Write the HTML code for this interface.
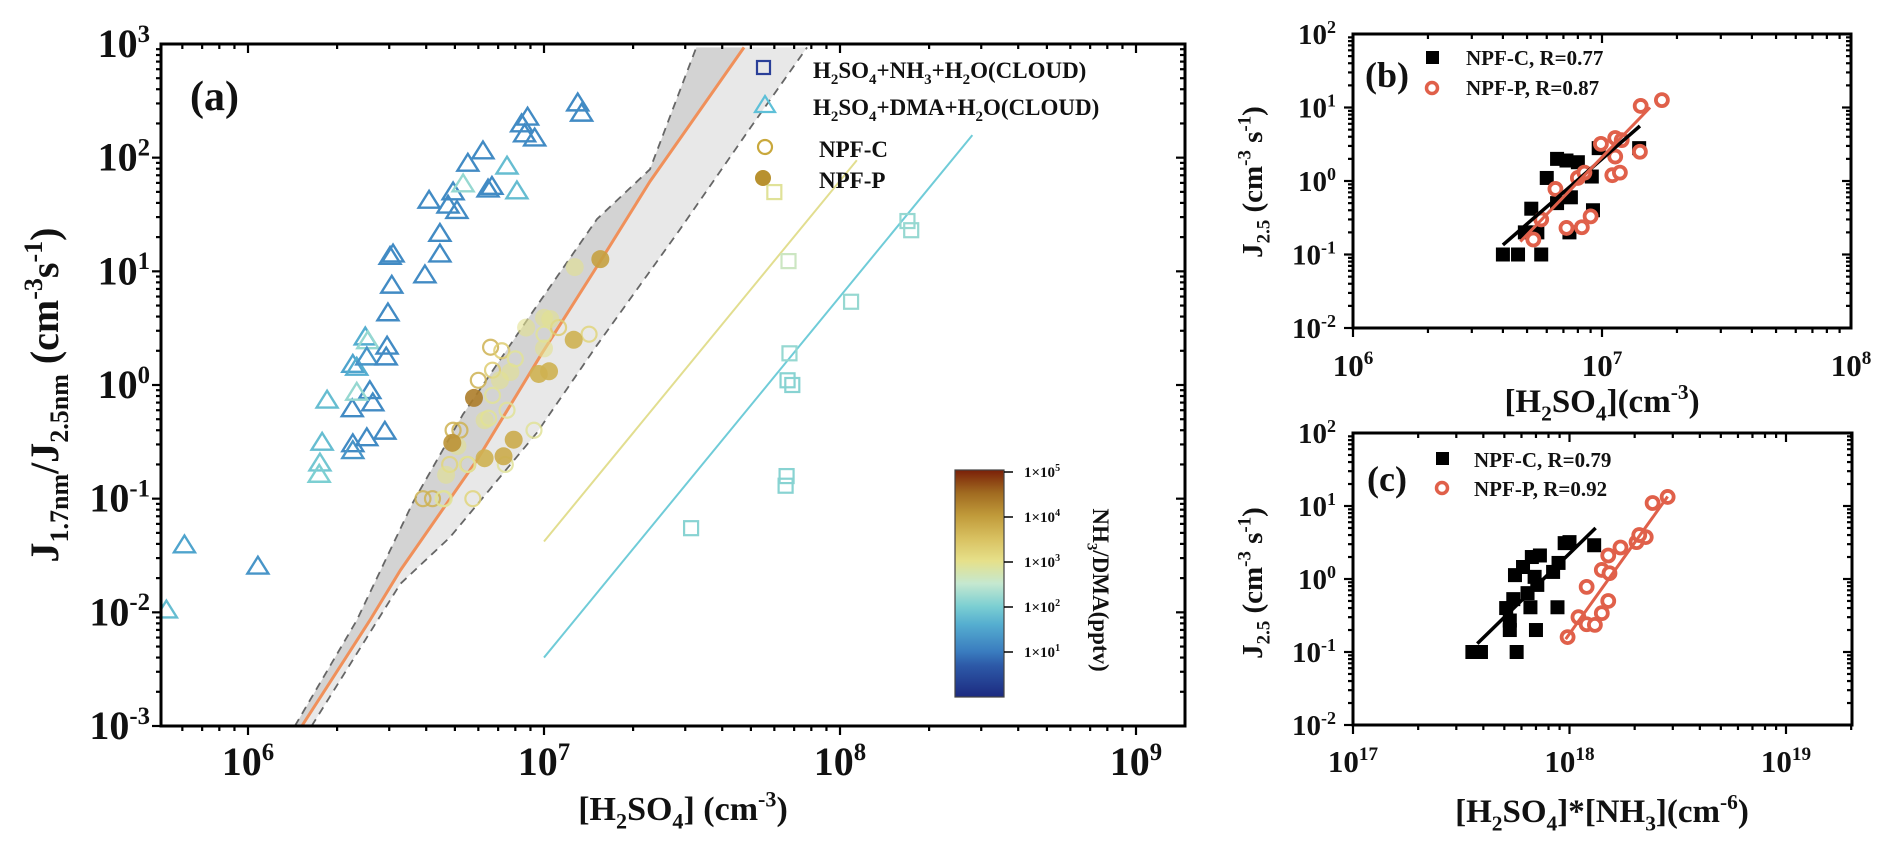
<!DOCTYPE html>
<html><head><meta charset="utf-8"><style>
html,body{margin:0;padding:0;background:#fff;}
svg{display:block;font-family:"Liberation Serif",serif;font-weight:bold;}
</style></head><body>
<svg id="fig" width="1892" height="860" viewBox="0 0 1892 860" xmlns="http://www.w3.org/2000/svg">
<defs>
<linearGradient id="cbgrad" x1="0" y1="1" x2="0" y2="0">
<stop offset="0" stop-color="#1c2a80"/><stop offset="0.14" stop-color="#2d5aa8"/><stop offset="0.2" stop-color="#3a7cbf"/>
<stop offset="0.32" stop-color="#55aed0"/><stop offset="0.4" stop-color="#7ccfd2"/><stop offset="0.5" stop-color="#c5e8d0"/>
<stop offset="0.6" stop-color="#e6e08a"/><stop offset="0.7" stop-color="#d8c060"/><stop offset="0.8" stop-color="#c09a3a"/>
<stop offset="0.9" stop-color="#a06a20"/><stop offset="1" stop-color="#7a2008"/>
</linearGradient>
</defs>
</svg>
<script>
// ===== Panel (a) data =====
const triX=[5.3e5,6.1e5,1.08e6,1.85e6,1.78e6,1.75e6,1.74e6,2.25e6,2.26e6,2.26e6,2.52e6,2.9e6,2.58e6,2.64e6,2.33e6,2.26e6,2.33e6,2.49e6,2.54e6,2.52e6,2.95e6,2.93e6,2.97e6,3.06e6,3.02e6,3.09e6,3.96e6,4.45e6,4.45e6,4.09e6,4.74e6,4.93e6,5.08e6,5.33e6,5.53e6,6.22e6,6.47e6,6.67e6,7.5e6,8.1e6,8.8e6,8.4e6,8.6e6,9.3e6,1.30e7,1.34e7];
const triY=[0.0107,0.040,0.026,0.75,0.32,0.21,0.167,0.63,0.31,0.27,0.35,0.40,0.91,0.71,0.88,1.55,1.46,2.7,2.5,1.8,2.24,1.8,4.4,7.7,13.8,14.5,9.5,14.5,22,43,39,51,35,60,91,117,54,57,86,52,232,202,165,152,309,251];
const triC=[60,30,20,60,60,80,100,15,15,20,15,15,15,15,150,30,40,40,150,20,15,15,15,15,15,15,15,15,15,15,15,15,15,150,15,15,15,15,60,60,15,15,15,15,15,15];
const ocX=[6.6e6,7.2e6,6.0e6,6.7e6,8.0e6,1.0e7,1.12e7,1.42e7,6.7e6,7.5e6,6.5e6,9.25e6,5.2e6,4.93e6,5.53e6,7.4e6,5.75e6,4.6e6,4.2e6,3.9e6,4.56e6,4.8e6,5.5e6];
const ocY=[2.15,2.0,1.1,1.35,1.7,2.8,3.2,2.8,0.81,0.60,0.51,0.40,0.40,0.40,0.20,0.20,0.10,0.10,0.10,0.10,0.10,0.20,0.20];
const ocC=[5000,2000,5000,2000,800,800,2000,1500,800,800,800,800,5000,5000,1500,800,1500,800,5000,5000,800,1500,800];
const fcX=[1.55e7,1.27e7,1.0e7,1.05e7,8.7e6,1.0e7,1.26e7,1.04e7,9.6e6,7.7e6,7.1e6,6.3e6,5.8e6,7.9e6,7.3e6,6.3e6,4.67e6,5.1e6,4.9e6];
const fcY=[12.8,10.9,3.9,3.8,3.2,2.1,2.5,1.32,1.25,1.3,1.1,0.49,0.77,0.33,0.236,0.227,0.162,0.29,0.31];
const fcC=[8000,900,900,900,900,900,5000,5000,5000,900,900,900,20000,6000,6000,5000,900,900,12000];
const sqX=[6.0e7,6.7e7,1.09e8,1.69e8,1.74e8,6.75e7,6.65e7,6.9e7,6.6e7,6.55e7,3.14e7];
const sqY=[49.8,12.3,5.4,27.7,23,1.9,1.1,1.0,0.158,0.13,0.055];
const sqC=[800,400,150,150,150,150,120,120,120,120,120];
const bandUpX=[1.44e6,2.33e6,3.61e6,5.32e6,8.97e6,1.51e7,2.28e7,3.27e7];
const bandUpY=[1e-3,8.5e-3,0.093,0.55,4.07,28.8,79,933];
const centerX=[1.52e6,2.58e6,3.27e6,5.94e6,9.84e6,1.58e7,2.28e7,4.74e7];
const centerY=[1e-3,8.5e-3,0.0234,0.219,1.9,13.3,61.7,933];
const bandLoX=[1.64e6,3.27e6,4.81e6,9.46e6,1.51e7,2.88e7,5.0e7,7.74e7];
const bandLoY=[1e-3,0.0178,0.0457,0.38,2.24,23.4,186,933];
const yelLineX=[1.0e7,1.14e8];
const yelLineY=[0.042,95];
const cyaLineX=[1.0e7,2.8e8];
const cyaLineY=[0.004,158];
const aXTicks=[1e6,1e7,1e8,1e9];
const aXTickLabels=["6","7","8","9"];
const aYTicks=[1e3,1e2,1e1,1e0,1e-1,1e-2,1e-3];
const aYTickLabels=["3","2","1","0","-1","-2","-3"];
const cbTicks=[1e5,1e4,1e3,1e2,1e1];
const cbTickLabels=["5","4","3","2","1"];
// ===== Panel (b) data =====
const bSqX=[4.0e6,4.6e6,5.7e6,4.9e6,5.5e6,5.2e6,6.6e6,7.5e6,6.0e6,6.6e6,7.2e6,8.0e6,9.2e6,9.1e6,7.4e6,1.41e7,9.7e6];
const bSqY=[0.10,0.10,0.10,0.2,0.2,0.42,0.5,0.6,1.1,2.0,1.9,1.8,0.40,1.15,0.2,2.8,2.8];
const bCiX=[5.3e6,5.7e6,6.5e6,7.2e6,8.3e6,9.0e6,8.0e6,8.5e6,9.9e6,1.13e7,1.20e7,1.13e7,1.10e7,1.18e7,1.42e7,1.43e7,1.74e7];
const bCiY=[0.16,0.30,0.78,0.23,0.235,0.33,1.1,1.3,3.2,3.85,3.6,2.15,1.2,1.3,2.5,10.5,12.6];
const bFitCX=[4.0e6,1.42e7]; const bFitCY=[0.135,5.6];
const bFitPX=[4.7e6,1.56e7]; const bFitPY=[0.15,10];
// ===== Panel (c) data =====
const cSqX=[3.75e17,3.56e17,3.9e17,5.7e17,5.3e17,7.0e17,5.1e17,5.5e17,6.6e17,8.8e17,5.3e17,6.4e17,5.6e17,6.1e17,6.9e17,6.7e17,7.3e17,8.4e17,8.9e17,9.5e17,1.0e18,1.3e18,7.1e17];
const cSqY=[0.1,0.1,0.1,0.1,0.2,0.2,0.40,0.53,0.41,0.41,0.27,0.64,1.13,1.46,1.07,2.0,2.1,1.25,1.66,3.1,3.2,2.9,0.83];
const cCiX=[9.8e17,1.10e18,1.2e18,1.31e18,1.41e18,1.51e18,1.2e18,1.41e18,1.53e18,1.51e18,1.72e18,2.04e18,2.25e18,2.42e18,2.84e18,2.1e18];
const cCiY=[0.16,0.30,0.24,0.235,0.34,0.50,0.78,1.33,1.2,2.1,2.7,3.2,3.75,11,13.3,4.0];
const cFitCX=[3.75e17,1.32e18]; const cFitCY=[0.13,5.0];
const cFitPX=[9.6e17,2.84e18]; const cFitPY=[0.15,13.5];
const bcYTicks=[1e2,1e1,1e0,1e-1,1e-2];
const bcYTickLabels=["2","1","0","-1","-2"];
const bXTicks=[1e6,1e7,1e8]; const bXTickLabels=["6","7","8"];
const cXTicks=[1e17,1e18,1e19]; const cXTickLabels=["17","18","19"];

const NS="http://www.w3.org/2000/svg";
const svg=document.getElementById('fig');
function el(tag,attrs,parent){const e=document.createElementNS(NS,tag);for(const k in attrs)e.setAttribute(k,attrs[k]);(parent||svg).appendChild(e);return e;}
function logAxis(p0,p1,l0,l1){return v=>p0+(Math.log10(v)-l0)/(l1-l0)*(p1-p0);}
const cmStops=[[0,[28,42,128]],[0.7,[45,90,168]],[1,[58,124,191]],[1.6,[85,174,208]],[2,[124,207,210]],[2.5,[197,232,208]],[3,[230,224,138]],[3.5,[216,192,96]],[4,[192,154,58]],[4.5,[160,106,32]],[5,[122,32,8]]];
function cmap(v){const l=Math.max(0,Math.min(5,Math.log10(v)));for(let i=1;i<cmStops.length;i++){if(l<=cmStops[i][0]){const a=cmStops[i-1],b=cmStops[i];const t=(l-a[0])/(b[0]-a[0]);const c=a[1].map((x,j)=>Math.round(x+(b[1][j]-x)*t));return `rgb(${c[0]},${c[1]},${c[2]})`;}}return 'rgb(122,32,8)';}

function supLabel(parent,x,y,base,exp,size,anchor,name){
  const t=el('text',{x:x,y:y,'font-size':size,'text-anchor':anchor||'middle',fill:'#111'},parent);
  
  
  const a=el('tspan',{},t);a.textContent=base;
  const b=el('tspan',{dy:-size*0.38,'font-size':size*0.62},t);b.textContent=exp;
  return t;
}
function axesFrame(g,L,T,R,B,xs,ys,xdec,ydec,name){
  const fr=el('rect',{x:L,y:T,width:R-L,height:B-T,fill:'none',stroke:'#000','stroke-width':3},g);
  
  
  const tg=el('g',{stroke:'#000','stroke-width':2.2},g);
  
  
  for(let d=xdec[0];d<=xdec[1];d++){for(let m=1;m<10;m++){const v=m*Math.pow(10,d);const x=xs(v);if(x<L-0.5||x>R+0.5)continue;const len=m===1?9:5;
    el('line',{x1:x,y1:B,x2:x,y2:B+len},tg);el('line',{x1:x,y1:T,x2:x,y2:T+len},tg);}}
  for(let d=ydec[0];d<=ydec[1];d++){for(let m=1;m<10;m++){const v=m*Math.pow(10,d);const y=ys(v);if(y<T-0.5||y>B+0.5)continue;const len=m===1?9:5;
    el('line',{x1:L,y1:y,x2:L-len,y2:y},tg);el('line',{x1:R,y1:y,x2:R-len,y2:y},tg);}}
}
function rotText(parent,x,y,parts,size,name,rot){
  const t=el('text',{x:0,y:0,'font-size':size,'text-anchor':'middle',fill:'#111',transform:`translate(${x},${y}) rotate(${rot||-90})`},parent);
  
  
  parts.forEach(p=>{const s=el('tspan',{},t);if(p[1]==='sub'){s.setAttribute('dy',size*0.25);s.setAttribute('font-size',size*0.65);}else if(p[1]==='sup'){s.setAttribute('dy',-size*0.4);s.setAttribute('font-size',size*0.65);}
    s.textContent=p[0];if(p[1]){const r=el('tspan',{dy:p[1]==='sub'?-size*0.25:size*0.4},t);r.textContent='\u200b';}});
  return t;
}
function plainText(parent,x,y,parts,size,name,anchor){
  const t=el('text',{x:x,y:y,'font-size':size,'text-anchor':anchor||'start',fill:'#111'},parent);
  
  
  parts.forEach(p=>{const s=el('tspan',{},t);if(p[1]==='sub'){s.setAttribute('dy',size*0.25);s.setAttribute('font-size',size*0.65);}else if(p[1]==='sup'){s.setAttribute('dy',-size*0.4);s.setAttribute('font-size',size*0.65);}
    s.textContent=p[0];if(p[1]){const r=el('tspan',{dy:p[1]==='sub'?-size*0.25:size*0.4},t);r.textContent='\u200b';}});
  return t;
}
function triPath(x,y,w){const h=w*0.8;return `M${x-w/2},${y+h/2} L${x},${y-h/2} L${x+w/2},${y+h/2} Z`;}

// ===== Panel (a) =====
const aL=161,aT=44,aR=1185,aB=726;
const ax=logAxis(248,1136,6,9), ay=logAxis(726,44,-3,3);
const ga=el('g',{});


const clipA=el('clipPath',{id:'clipA'},ga);el('rect',{x:aL,y:aT,width:aR-aL,height:aB-aT},clipA);
const plotA=el('g',{'clip-path':'url(#clipA)'},ga);


function pts(X,Y,fx,fy){return X.map((v,i)=>`${fx(v)},${fy(Y[i])}`);}
const up=pts(bandUpX,bandUpY,ax,ay), ce=pts(centerX,centerY,ax,ay), lo=pts(bandLoX,bandLoY,ax,ay);
const bandDark=el('polygon',{points:up.concat(ce.slice().reverse()).join(' '),fill:'#d3d3d3'},plotA);


const bandLight=el('polygon',{points:ce.concat(lo.slice().reverse()).join(' '),fill:'#e8e8e8'},plotA);


const upL=el('polyline',{points:up.join(' '),fill:'none',stroke:'#666','stroke-width':1.8,'stroke-dasharray':'8,6'},plotA);


const loL=el('polyline',{points:lo.join(' '),fill:'none',stroke:'#666','stroke-width':1.8,'stroke-dasharray':'8,6'},plotA);


const ceL=el('polyline',{points:ce.join(' '),fill:'none',stroke:'#f0905a','stroke-width':3},plotA);


const yl=el('line',{x1:ax(yelLineX[0]),y1:ay(yelLineY[0]),x2:ax(yelLineX[1]),y2:ay(yelLineY[1]),stroke:'#e2de90','stroke-width':2},plotA);


const cl=el('line',{x1:ax(cyaLineX[0]),y1:ay(cyaLineY[0]),x2:ax(cyaLineX[1]),y2:ay(cyaLineY[1]),stroke:'#70ccd8','stroke-width':2},plotA);


sqX.forEach((v,i)=>{const x=ax(v),y=ay(sqY[i]);const r=el('rect',{x:x-7,y:y-7,width:14,height:14,fill:'none',stroke:cmap(sqC[i]),'stroke-width':2.2},plotA);
  
  });
triX.forEach((v,i)=>{const p=el('path',{d:triPath(ax(v),ay(triY[i]),21),fill:'none',stroke:cmap(triC[i]),'stroke-width':2.4},plotA);
  
  });
ocX.forEach((v,i)=>{const c=el('circle',{cx:ax(v),cy:ay(ocY[i]),r:7.5,fill:'none',stroke:cmap(ocC[i]),'stroke-width':2.2,opacity:0.85},plotA);
  
  });
fcX.forEach((v,i)=>{const c=el('circle',{cx:ax(v),cy:ay(fcY[i]),r:9,fill:cmap(fcC[i]),opacity:fcC[i]>3000?0.9:0.6},plotA);
  
  });
axesFrame(ga,aL,aT,aR,aB,ax,ay,[5,9],[-3,2],'panel-a');
aXTicks.forEach((v,i)=>supLabel(ga,ax(v),775,'10',aXTickLabels[i],40,'middle','x-tick-label-a'));
aYTicks.forEach((v,i)=>supLabel(ga,150,ay(v)+13,'10',aYTickLabels[i],40,'end','y-tick-label-a'));
plainText(ga,683,820,[['[H'],['2','sub'],['SO'],['4','sub'],['] (cm'],['-3','sup'],[')']],34,'x-axis-title-a','middle');
rotText(ga,58,395,[['J'],['1.7nm','sub'],['/J'],['2.5nm','sub'],['  (cm'],['-3','sup'],['s'],['-1','sup'],[')']],40,'y-axis-title-a');
plainText(ga,190,110,[['(a)']],42,'panel-a-label');
const lg=el('g',{});


const l1=el('rect',{x:757,y:61,width:13,height:13,fill:'none',stroke:'#2a3f98','stroke-width':2.2},lg);


plainText(lg,813,78,[['H'],['2','sub'],['SO'],['4','sub'],['+NH'],['3','sub'],['+H'],['2','sub'],['O(CLOUD)']],23,'legend-cloud-nh3');
const l2=el('path',{d:triPath(765,104,20),fill:'none',stroke:'#5ec0d8','stroke-width':2.2},lg);


plainText(lg,813,115,[['H'],['2','sub'],['SO'],['4','sub'],['+DMA+H'],['2','sub'],['O(CLOUD)']],23,'legend-cloud-dma');
const l3=el('circle',{cx:765,cy:147,r:7,fill:'none',stroke:'#c9a83c','stroke-width':2.2},lg);


plainText(lg,819,157,[['NPF-C']],23,'legend-npf-c');
const l4=el('circle',{cx:763,cy:178,r:8,fill:'#b8912f'},lg);


plainText(lg,819,188,[['NPF-P']],23,'legend-npf-p');
const cbg=el('g',{});


const cby=logAxis(697,472,0,5);
const cbr=el('rect',{x:955,y:470,width:49,height:227,fill:'url(#cbgrad)',stroke:'#444','stroke-width':1.2},cbg);


cbTicks.forEach((v,i)=>{const y=cby(v);el('line',{x1:1004,y1:y,x2:1013,y2:y,stroke:'#000','stroke-width':1.5},cbg);
  const t=el('text',{x:1024,y:y+5,'font-size':15,fill:'#111'},cbg);
  
  
  const a=el('tspan',{},t);a.textContent='1\u00d710';const b=el('tspan',{dy:-6,'font-size':10},t);b.textContent=cbTickLabels[i];});
rotText(cbg,1093,590,[['NH'],['3','sub'],['/DMA(pptv)']],23,'colorbar-title',90);

// ===== Panel (b) =====
const bL=1353,bT=34,bR=1851,bB=328;
const bx=logAxis(1353,1851,6,8), by=logAxis(328,34,-2,2);
const gb=el('g',{});


axesFrame(gb,bL,bT,bR,bB,bx,by,[6,7],[-2,1],'panel-b');
bSqX.forEach((v,i)=>{const x=bx(v),y=by(bSqY[i]);const r=el('rect',{x:x-7,y:y-7,width:14,height:14,fill:'#000'},gb);
  
  });
bCiX.forEach((v,i)=>{const c=el('circle',{cx:bx(v),cy:by(bCiY[i]),r:6,fill:'#fff',stroke:'#e0604a','stroke-width':3.8},gb);
  
  });
const bf1=el('line',{x1:bx(bFitCX[0]),y1:by(bFitCY[0]),x2:bx(bFitCX[1]),y2:by(bFitCY[1]),stroke:'#000','stroke-width':3.5},gb);


const bf2=el('line',{x1:bx(bFitPX[0]),y1:by(bFitPY[0]),x2:bx(bFitPX[1]),y2:by(bFitPY[1]),stroke:'#e0604a','stroke-width':3},gb);


bXTicks.forEach((v,i)=>supLabel(gb,bx(v),376,'10',bXTickLabels[i],31,'middle','x-tick-label-b'));
bcYTicks.forEach((v,i)=>supLabel(gb,1336,by(v)+10,'10',bcYTickLabels[i],29,'end','y-tick-label-b'));
plainText(gb,1602,412,[['[H'],['2','sub'],['SO'],['4','sub'],['](cm'],['-3','sup'],[')']],33,'x-axis-title-b','middle');
rotText(gb,1262,182,[['J'],['2.5','sub'],['  (cm'],['-3','sup'],[' s'],['-1','sup'],[')']],29,'y-axis-title-b');
plainText(gb,1365,87,[['(b)']],36,'panel-b-label');
const bl1=el('rect',{x:1426,y:51,width:13,height:13,fill:'#000'},gb);


plainText(gb,1466,65,[['NPF-C, R=0.77']],21,'legend-b-npf-c');
const bl2=el('circle',{cx:1432,cy:88,r:5.5,fill:'#fff',stroke:'#e0604a','stroke-width':3.5},gb);


plainText(gb,1466,95,[['NPF-P, R=0.87']],21,'legend-b-npf-p');

// ===== Panel (c) =====
const cL=1353,cT=433,cR=1852,cB=725;
const cx=logAxis(1353,1786,17,19), cy=logAxis(725,433,-2,2);
const gc=el('g',{});


axesFrame(gc,cL,cT,cR,cB,cx,cy,[17,19],[-2,1],'panel-c');
cSqX.forEach((v,i)=>{const x=cx(v),y=cy(cSqY[i]);const r=el('rect',{x:x-7,y:y-7,width:14,height:14,fill:'#000'},gc);
  
  });
cCiX.forEach((v,i)=>{const c=el('circle',{cx:cx(v),cy:cy(cCiY[i]),r:6,fill:'#fff',stroke:'#e0604a','stroke-width':3.8},gc);
  
  });
const cf1=el('line',{x1:cx(cFitCX[0]),y1:cy(cFitCY[0]),x2:cx(cFitCX[1]),y2:cy(cFitCY[1]),stroke:'#000','stroke-width':3.5},gc);


const cf2=el('line',{x1:cx(cFitPX[0]),y1:cy(cFitPY[0]),x2:cx(cFitPX[1]),y2:cy(cFitPY[1]),stroke:'#e0604a','stroke-width':3},gc);


cXTicks.forEach((v,i)=>supLabel(gc,cx(v),772,'10',cXTickLabels[i],31,'middle','x-tick-label-c'));
bcYTicks.forEach((v,i)=>supLabel(gc,1336,cy(v)+10,'10',bcYTickLabels[i],29,'end','y-tick-label-c'));
plainText(gc,1602,822,[['[H'],['2','sub'],['SO'],['4','sub'],[']*[NH'],['3','sub'],['](cm'],['-6','sup'],[')']],33,'x-axis-title-c','middle');
rotText(gc,1262,583,[['J'],['2.5','sub'],['  (cm'],['-3','sup'],[' s'],['-1','sup'],[')']],29,'y-axis-title-c');
plainText(gc,1367,491,[['(c)']],36,'panel-c-label');
const cl1=el('rect',{x:1436,y:452,width:13,height:13,fill:'#000'},gc);


plainText(gc,1474,467,[['NPF-C, R=0.79']],21,'legend-c-npf-c');
const cl2=el('circle',{cx:1442,cy:488,r:5.5,fill:'#fff',stroke:'#e0604a','stroke-width':3.5},gc);


plainText(gc,1474,496,[['NPF-P, R=0.92']],21,'legend-c-npf-p');
</script>
</body></html>
